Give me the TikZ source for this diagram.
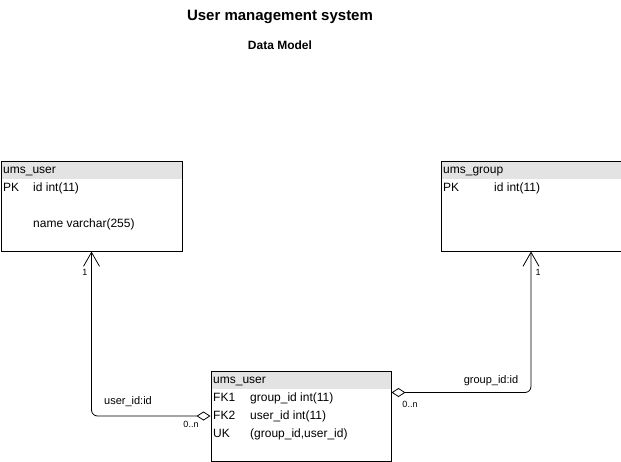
\documentclass[tikz,border=0pt]{standalone}
\usepackage{fontspec}
\setmainfont{Liberation Sans}
\usetikzlibrary{arrows.meta,calc}
\begin{document}
\begin{tikzpicture}[x=1pt,y=-1pt,
  tbl/.style={draw=black, line width=1pt, minimum width=#1, minimum height=90pt, inner sep=0pt, anchor=north west},
  hdr/.style={fill=black!11, draw=none, minimum width=#1, minimum height=18pt, inner sep=0pt, anchor=north west},
  txt/.style={anchor=base west, inner sep=0pt, font=\fontsize{12}{14}\selectfont},
  lbl/.style={inner sep=0pt, font=\fontsize{11}{13}\selectfont},
  card/.style={inner sep=0pt, font=\fontsize{9}{11}\selectfont},
  rel/.style={line width=0.8pt, rounded corners=6pt,
    {Diamond[open,length=14pt,width=9pt,line width=0.8pt]}-{Straight Barb[length=14pt,width=16pt,line width=0.8pt]}}
]
\useasboundingbox (0,0) rectangle (621,461);
% titles
\node[inner sep=0pt, font=\bfseries\fontsize{15}{17}\selectfont] (title) at (280,17) {User management system};
\node[inner sep=0pt, font=\bfseries\fontsize{12}{14}\selectfont] (sub) at (280,45) {Data Model};
% ums_user
\node[hdr=181pt] (uh) at (0.5,160.5) {};
\node[tbl=181pt] (user) at (0.5,160.5) {};
\node[txt] (u0) at (3,173) {ums\_user};
\node[txt] (u1) at (3,191) {PK};
\node[txt] (u2) at (33,191) {id int(11)};
\node[txt] (u3) at (33,227) {name varchar(255)};
% ums_group
\node[hdr=180pt] (gh) at (440.5,160.5) {};
\node[tbl=180pt] (group) at (440.5,160.5) {};
\node[txt] (g0) at (443,173) {ums\_group};
\node[txt] (g1) at (443,191) {PK};
\node[txt] (g2) at (494,191) {id int(11)};
% link table
\node[hdr=180pt] (lh) at (210.5,370.5) {};
\node[tbl=180pt] (link) at (210.5,370.5) {};
\node[txt] (l0) at (213,383) {ums\_user};
\node[txt] (l1) at (213,401) {FK1};
\node[txt] (l2) at (250,401) {group\_id int(11)};
\node[txt] (l3) at (213,419) {FK2};
\node[txt] (l4) at (250,419) {user\_id int(11)};
\node[txt] (l5) at (213,437) {UK};
\node[txt] (l6) at (250,437) {(group\_id,user\_id)};
% relations
\draw[rel] (link.west) -| (user.south);
\coordinate (re) at ($(link.north east)+(0,22)$);
\draw[rel] (re) -| (group.south);
% labels
\node[card] (c1) at (85,272) {1};
\node[card] (c2) at (538,272) {1};
\node[card] (c3) at (191,424) {0..n};
\node[card] (c4) at (410,404) {0..n};
\node[lbl] (r1) at (128,402) {user\_id:id};
\node[lbl] (r2) at (491,381) {group\_id:id};
\end{tikzpicture}
\end{document}
